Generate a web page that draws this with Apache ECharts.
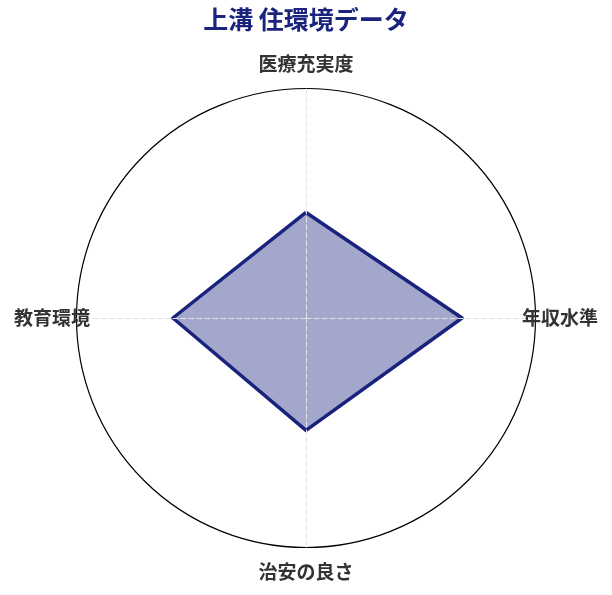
<!DOCTYPE html>
<html>
<head>
<meta charset="utf-8">
<script src="https://cdn.jsdelivr.net/npm/echarts@6/dist/echarts.min.js"></script>
<style>
html,body{margin:0;padding:0;background:#fff;}
#chart{width:612px;height:595px;}
</style>
</head>
<body>
<div id="chart"></div>
<script>
// Data (ECharts radar places indicators counter-clockwise from the top)
const titleText = '上溝 住環境データ';
const indicatorNames = ['医療充実度', '教育環境', '治安の良さ', '年収水準'];
const indicatorMax = [100, 100, 100, 100];
const scoreValues = [46, 58, 49, 68];

const navy = '#1a237e';
const chart = echarts.init(document.getElementById('chart'));
chart.setOption({
  backgroundColor: '#fff',
  animation: false,
  title: {
    text: titleText,
    left: 'center',
    top: 2,
    textStyle: { color: navy, fontSize: 25, fontWeight: 'bold', fontFamily: 'Noto Sans CJK JP' }
  },
  radar: {
    z: 3,
    center: ['50%', 318],
    radius: 229.5,
    shape: 'circle',
    splitNumber: 1,
    nameGap: -13.5,
    axisName: {
      color: '#333',
      fontSize: 19,
      fontWeight: 'bold',
      fontFamily: 'Noto Sans CJK JP',
      padding: [28.5, 0, 28.5, 0]
    },
    indicator: indicatorNames.map((n, i) => ({ name: n, max: indicatorMax[i] })),
    splitLine: { lineStyle: { color: '#000', width: 1.2 } },
    splitArea: { show: false },
    axisLine: { lineStyle: { color: '#e4e4e4', width: 1, type: [5, 3] } },
    axisTick: { show: false },
    axisLabel: { show: false }
  },
  series: [{
    type: 'radar',
    z: 2,
    symbol: 'none',
    data: [{
      value: scoreValues,
      name: titleText,
      lineStyle: { color: navy, width: 3.5 },
      areaStyle: { color: navy, opacity: 0.4 }
    }]
  }]
});
</script>
</body>
</html>
